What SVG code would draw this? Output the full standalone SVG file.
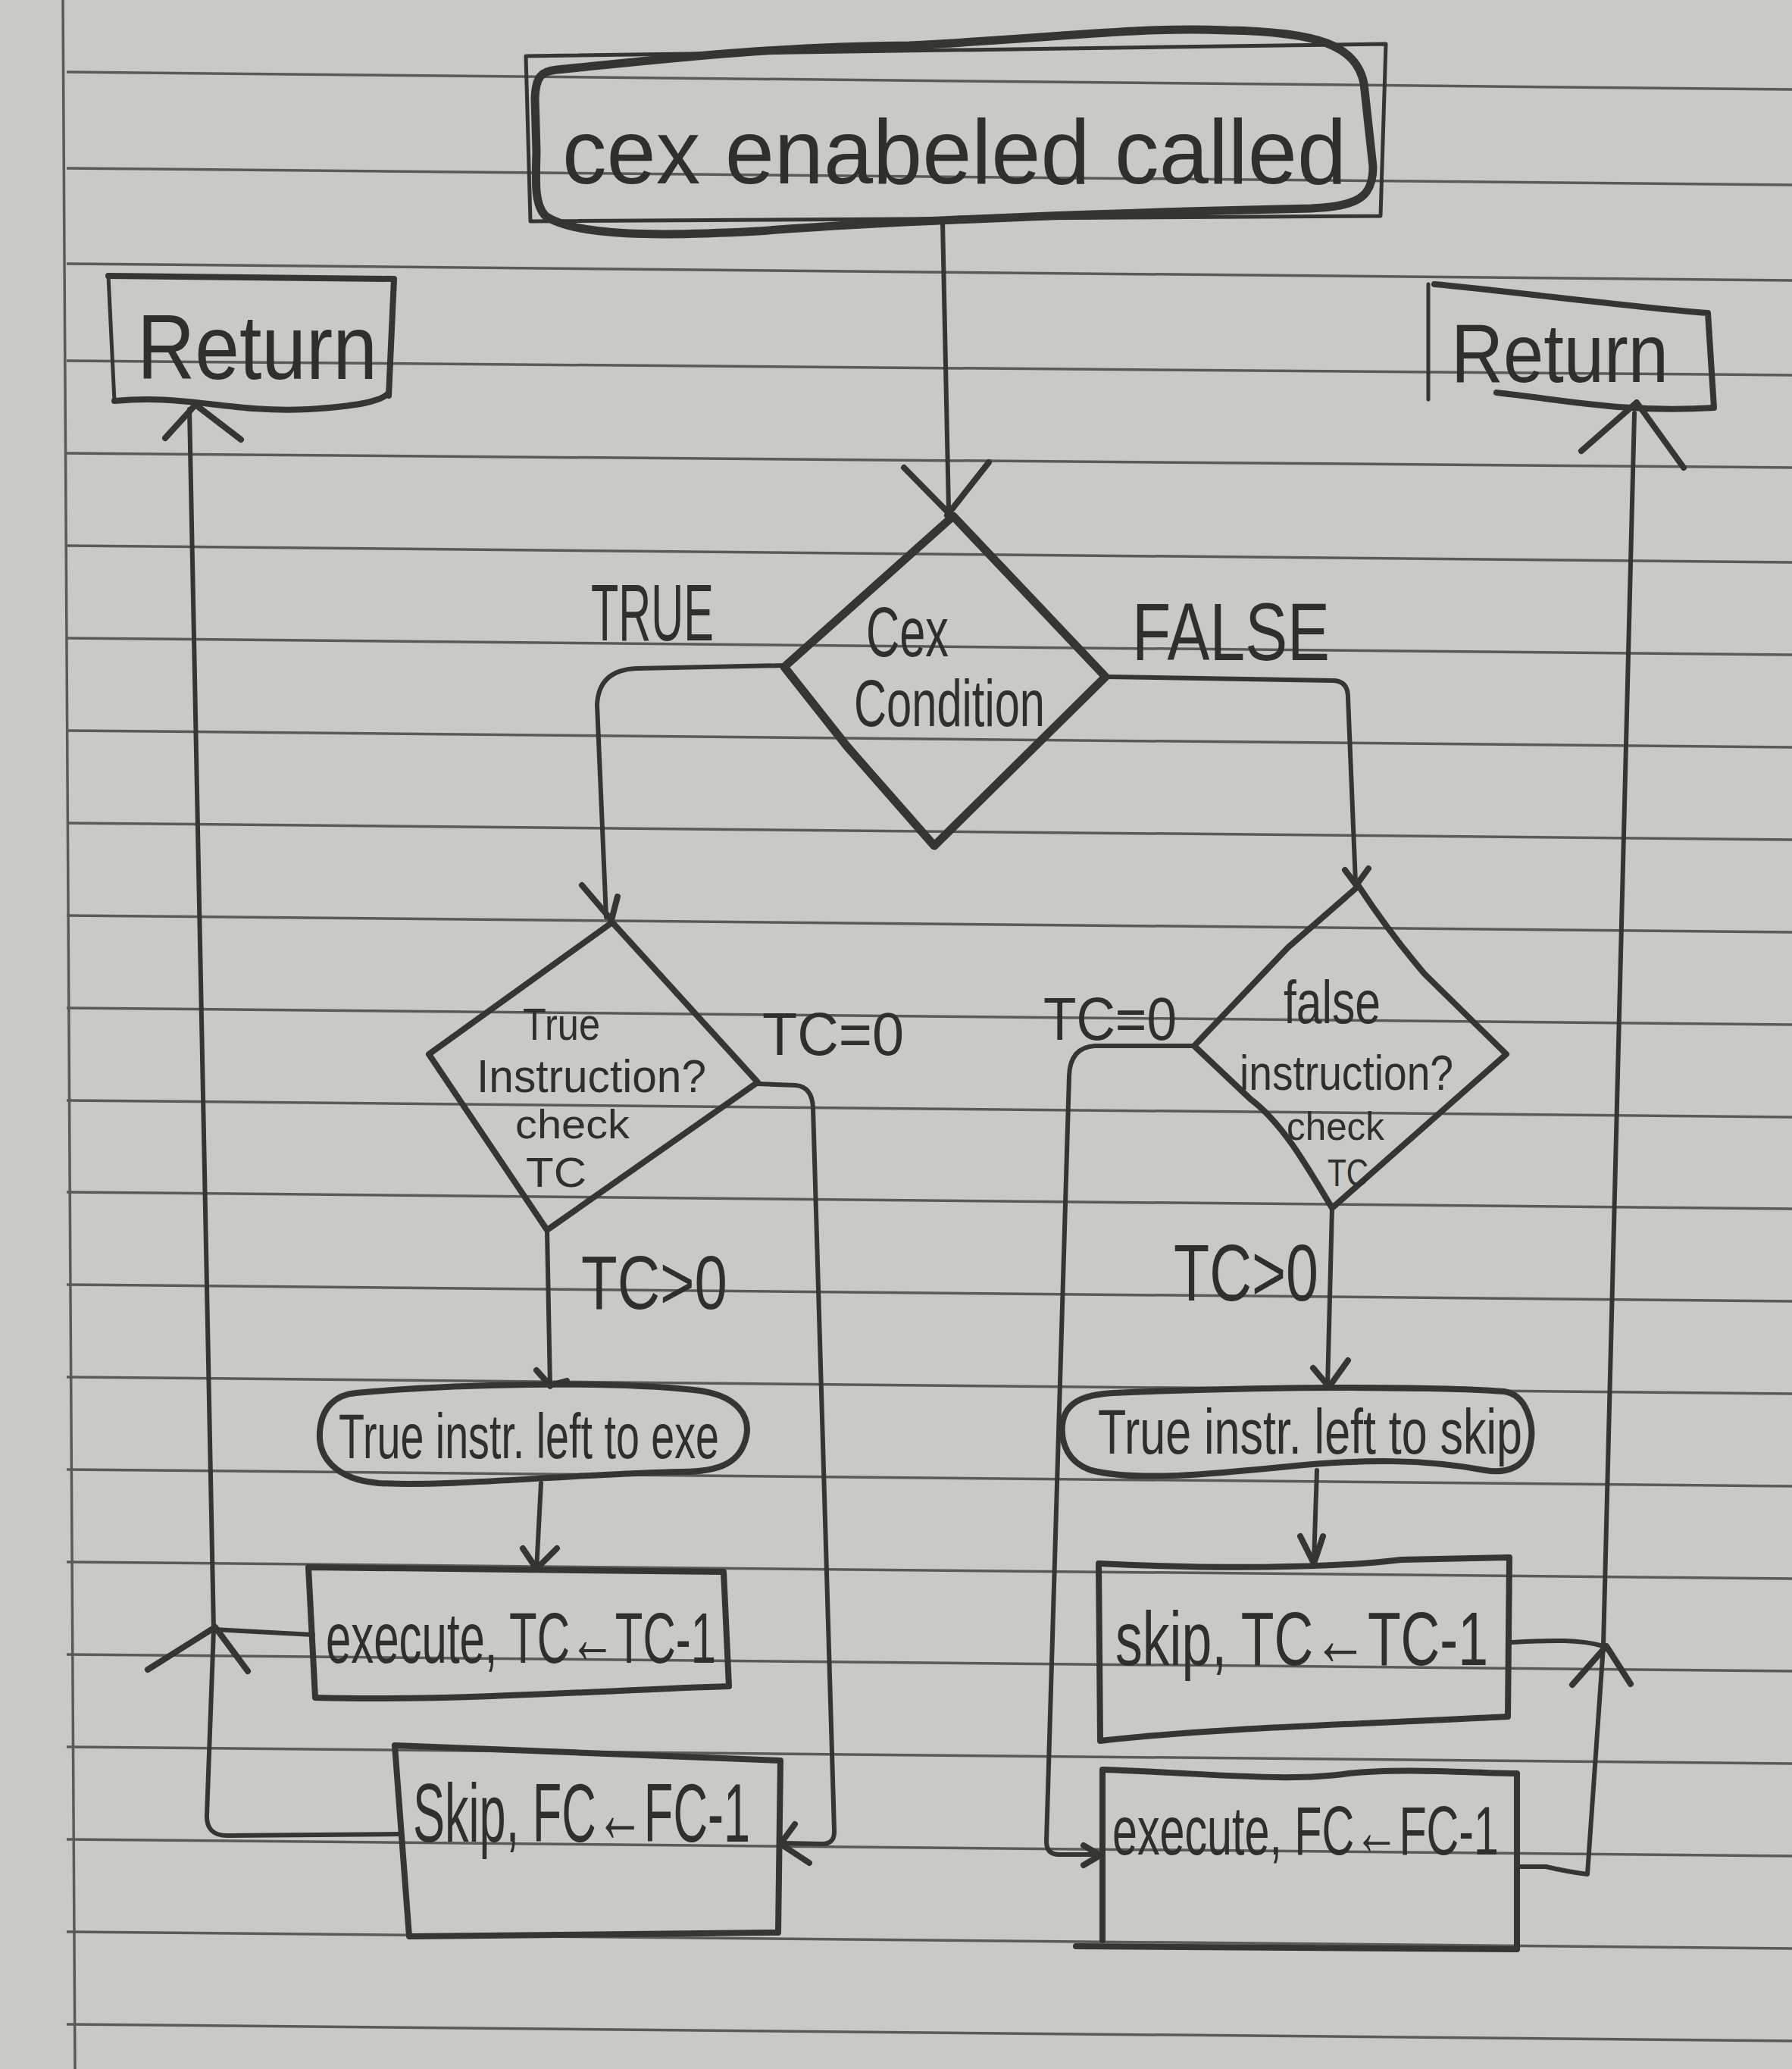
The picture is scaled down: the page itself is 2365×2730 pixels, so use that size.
<svg xmlns="http://www.w3.org/2000/svg" width="2365" height="2730" viewBox="0 0 2365 2730">
<defs>
<style>
.paper{fill:#c9cac5}
.rule{stroke:#5a5b58;stroke-width:3.5;fill:none}
.ink{stroke:#353533;fill:none;stroke-linecap:round;stroke-linejoin:round}
.thick{stroke-width:11}
.med{stroke-width:8}
.thin{stroke-width:5}
.conn{stroke-width:6}
.lbl{font-family:"Liberation Sans",Arial,sans-serif;fill:#2f2f2d}
</style>
</defs>
<rect class="paper" x="0" y="0" width="2365" height="2730"/>
<g id="paper-rules">
<path class="rule" d="M83,0 L99,2730"/>
<path class="rule" d="M88,95 L2365,118 M88,222 L2365,244 M88,348 L2365,370 M88,476 L2365,495 M88,598 L2365,617 M88,720 L2365,742 M88,842 L2365,864 M88,964 L2365,986 M88,1086 L2365,1108 M88,1208 L2365,1230 M88,1330 L2365,1352 M88,1452 L2365,1474 M88,1573 L2365,1595 M88,1695 L2365,1717 M88,1817 L2365,1839 M88,1939 L2365,1961 M88,2061 L2365,2083 M88,2183 L2365,2205 M88,2305 L2365,2327 M88,2427 L2365,2449 M88,2549 L2365,2571 M88,2671 L2365,2693"/>
</g>
<g id="connectors">
<path class="ink conn" d="M1244,292 L1252,672"/>
<path class="ink med" d="M1193,617 L1255,680 M1305,610 L1250,680"/>
<path class="ink conn" d="M1035,878 L840,882 Q790,884 788,930 L800,1210"/>
<path class="ink med" d="M768,1168 L807,1214 L815,1183"/>
<path class="ink conn" d="M1000,1430 L1050,1432 Q1072,1434 1073,1462 L1101,2415 Q1102,2433 1085,2433 L1035,2432"/>
<path class="ink med" d="M1049,2407 L1030,2433 L1068,2458"/>
<path class="ink conn" d="M722,1623 L726,1830"/>
<path class="ink med" d="M708,1808 L726,1828 L748,1822"/>
<path class="ink conn" d="M714,1957 L708,2072"/>
<path class="ink med" d="M690,2043 L708,2070 L735,2043"/>
<path class="ink conn" d="M413,2157 L282,2150"/>
<path class="ink med" d="M195,2203 L284,2147 L327,2205"/>
<path class="ink conn" d="M528,2420 L300,2422 Q272,2422 273,2395 L282,2150 L250,540"/>
<path class="ink med" d="M218,578 L258,534 L318,580"/>
<path class="ink conn" d="M1459,893 L1760,898 Q1779,899 1779,920 L1789,1165"/>
<path class="ink med" d="M1775,1148 L1790,1168 L1806,1146"/>
<path class="ink conn" d="M1576,1380 L1445,1380 Q1412,1382 1411,1420 L1381,2430 Q1381,2447 1398,2447 L1450,2447"/>
<path class="ink med" d="M1430,2435 L1452,2448 L1430,2461"/>
<path class="ink conn" d="M1758,1594 L1752,1830"/>
<path class="ink med" d="M1733,1805 L1754,1830 L1779,1795"/>
<path class="ink conn" d="M1738,1940 L1734,2060"/>
<path class="ink med" d="M1716,2027 L1734,2063 L1746,2027"/>
<path class="ink conn" d="M1990,2167 C2040,2165 2080,2162 2116,2172"/>
<path class="ink med" d="M2075,2223 L2120,2172 L2152,2222"/>
<path class="ink conn" d="M2002,2463 L2040,2463 Q2070,2470 2095,2473 L2116,2172 L2157,545"/>
<path class="ink med" d="M2087,595 L2160,531 L2222,617"/>
</g>
<g id="start">
<path class="ink thin" d="M694,74 L1829,58 L1822,285 L700,292 Z"/>
<path class="ink thick" d="M735,92 C860,80 1000,62 1200,60 C1400,50 1500,35 1620,40 C1740,42 1790,60 1800,110 L1812,220 C1812,262 1790,272 1730,275 C1500,280 1200,290 1000,305 C870,312 760,312 720,285 C705,270 707,240 708,200 L706,130 C707,100 715,94 735,92 Z"/>
<text class="lbl" x="742" y="242" font-size="120" textLength="1035" lengthAdjust="spacingAndGlyphs">cex enabeled called</text>
</g>
<g id="return-left">
<path class="ink thin" d="M143,364 L151,529"/>
<path class="ink med" d="M143,364 L520,368 L513,522 M151,529 C250,520 300,545 407,540 C470,536 505,530 513,518"/>
<text class="lbl" x="181" y="500" font-size="120" textLength="317" lengthAdjust="spacingAndGlyphs">Return</text>
</g>
<g id="return-right">
<path class="ink thin" d="M1885,375 L1885,527"/>
<path class="ink med" d="M1893,375 C2000,385 2150,405 2254,413 L2262,538 C2150,545 2080,530 1975,518"/>
<text class="lbl" x="1915" y="504" font-size="110" textLength="287" lengthAdjust="spacingAndGlyphs">Return</text>
</g>
<g id="cex-condition">
<path class="ink thick" d="M1258,681 L1459,893 L1233,1116 L1118,985 L1035,880 Z"/>
<text class="lbl" x="1143" y="866" font-size="92" textLength="109" lengthAdjust="spacingAndGlyphs">Cex</text>
<text class="lbl" x="1127" y="958" font-size="88" textLength="252" lengthAdjust="spacingAndGlyphs">Condition</text>
</g>
<g id="label-true"><text class="lbl" x="780" y="845" font-size="105" textLength="162" lengthAdjust="spacingAndGlyphs">TRUE</text></g>
<g id="label-false"><text class="lbl" x="1494" y="871" font-size="108" textLength="261" lengthAdjust="spacingAndGlyphs">FALSE</text></g>
<g id="true-instruction">
<path class="ink med" d="M808,1217 L1000,1428 L722,1623 L566,1391 Z"/>
<text class="lbl" x="690" y="1372" font-size="60" textLength="102" lengthAdjust="spacingAndGlyphs">True</text>
<text class="lbl" x="629" y="1441" font-size="62" textLength="303" lengthAdjust="spacingAndGlyphs">Instruction?</text>
<text class="lbl" x="680" y="1502" font-size="54" textLength="151" lengthAdjust="spacingAndGlyphs">check</text>
<text class="lbl" x="694" y="1566" font-size="56" textLength="80" lengthAdjust="spacingAndGlyphs">TC</text>
</g>
<g id="label-tc0-left"><text class="lbl" x="1006" y="1392" font-size="80" textLength="187" lengthAdjust="spacingAndGlyphs">TC=0</text></g>
<g id="label-tcgt0-left"><text class="lbl" x="767" y="1727" font-size="100" textLength="193" lengthAdjust="spacingAndGlyphs">TC&gt;0</text></g>
<g id="true-left-exe">
<path class="ink med" d="M470,1838 C600,1826 800,1822 916,1834 C975,1840 990,1870 985,1895 C978,1930 950,1942 900,1942 C750,1945 600,1962 500,1957 C440,1952 420,1920 422,1890 C424,1855 445,1840 470,1838 Z"/>
<text class="lbl" x="447" y="1924" font-size="84" textLength="502" lengthAdjust="spacingAndGlyphs">True instr. left to exe</text>
</g>
<g id="execute-tc">
<path class="ink med" d="M407,2068 L955,2074 L962,2225 C800,2230 600,2245 416,2240 Z"/>
<text class="lbl" x="430" y="2194" font-size="95" textLength="515" lengthAdjust="spacingAndGlyphs">execute, TC←TC-1</text>
</g>
<g id="skip-fc">
<path class="ink med" d="M521,2303 L1030,2323 L1027,2550 L540,2555 Z"/>
<text class="lbl" x="545" y="2430" font-size="110" textLength="445" lengthAdjust="spacingAndGlyphs">Skip, FC←FC-1</text>
</g>
<g id="false-instruction">
<path class="ink med" d="M1793,1169 C1820,1210 1850,1250 1880,1285 L1988,1391 L1758,1594 C1720,1530 1690,1480 1650,1450 L1576,1380 L1700,1250 Z"/>
<text class="lbl" x="1694" y="1350" font-size="80" textLength="128" lengthAdjust="spacingAndGlyphs">false</text>
<text class="lbl" x="1636" y="1438" font-size="64" textLength="282" lengthAdjust="spacingAndGlyphs">instruction?</text>
<text class="lbl" x="1698" y="1504" font-size="52" textLength="129" lengthAdjust="spacingAndGlyphs">check</text>
<text class="lbl" x="1752" y="1565" font-size="50" textLength="54" lengthAdjust="spacingAndGlyphs">TC</text>
</g>
<g id="label-tc0-right"><text class="lbl" x="1377" y="1372" font-size="80" textLength="176" lengthAdjust="spacingAndGlyphs">TC=0</text></g>
<g id="label-tcgt0-right"><text class="lbl" x="1549" y="1716" font-size="105" textLength="191" lengthAdjust="spacingAndGlyphs">TC&gt;0</text></g>
<g id="true-left-skip">
<path class="ink med" d="M1470,1838 C1700,1828 1900,1830 1985,1836 C2015,1840 2025,1880 2020,1905 C2015,1935 1990,1945 1960,1940 C1880,1925 1800,1925 1700,1935 C1600,1945 1500,1955 1440,1940 C1410,1930 1400,1905 1402,1880 C1405,1850 1430,1840 1470,1838 Z"/>
<text class="lbl" x="1449" y="1918" font-size="84" textLength="560" lengthAdjust="spacingAndGlyphs">True instr. left to skip</text>
</g>
<g id="skip-tc">
<path class="ink med" d="M1450,2063 C1600,2070 1750,2070 1850,2058 L1992,2055 L1990,2265 C1800,2275 1600,2280 1452,2297 Z"/>
<text class="lbl" x="1472" y="2197" font-size="100" textLength="492" lengthAdjust="spacingAndGlyphs">skip, TC←TC-1</text>
</g>
<g id="execute-fc">
<path class="ink med" d="M1455,2560 L1455,2335 C1600,2340 1700,2352 1780,2340 C1850,2332 1950,2340 2002,2340 L2002,2572 L1420,2568"/>
<text class="lbl" x="1468" y="2447" font-size="90" textLength="510" lengthAdjust="spacingAndGlyphs">execute, FC←FC-1</text>
</g>
</svg>
